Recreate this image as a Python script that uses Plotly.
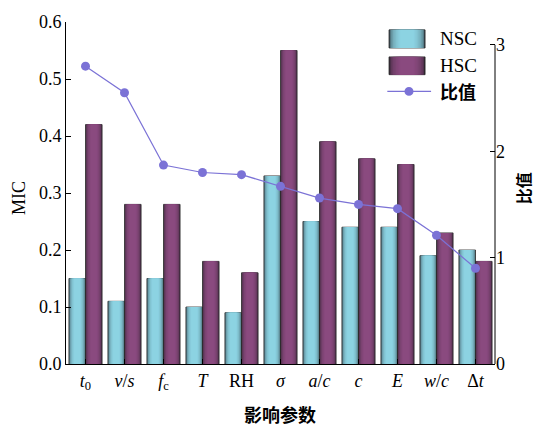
import plotly.graph_objects as go

# Influencing parameters (x categories) and their tick labels
params = ["t0", "v/s", "fc", "T", "RH", "sigma", "a/c", "c", "E", "w/c", "dt"]
tick_labels = ["<i>t</i><sub>0</sub>", "<i>v</i>/<i>s</i>", "<i>f</i><sub>c</sub>", "<i>T</i>",
               "RH", "<i>σ</i>", "<i>a</i>/<i>c</i>", "<i>c</i>", "<i>E</i>",
               "<i>w</i>/<i>c</i>", "Δ<i>t</i>"]

# MIC values for normal- and high-strength concrete
mic_nsc = [0.15, 0.11, 0.15, 0.10, 0.09, 0.33, 0.25, 0.24, 0.24, 0.19, 0.20]
mic_hsc = [0.42, 0.28, 0.28, 0.18, 0.16, 0.55, 0.39, 0.36, 0.35, 0.23, 0.18]
# HSC / NSC ratio
ratio = [2.80, 2.55, 1.87, 1.80, 1.78, 1.67, 1.56, 1.50, 1.46, 1.21, 0.90]

pos = list(range(len(params)))

SERIF = "Liberation Serif, Times New Roman, serif"
CJK = "Noto Sans CJK SC, sans-serif"
LINE_COLOR = "#7b72d6"

BAR_W = 0.425
NSC_EDGE, NSC_MID = (52, 70, 78), (146, 220, 236)
HSC_EDGE, HSC_MID = (48, 36, 48), (144, 76, 132)

# half-width fractions for the layered "cylinder" shading
FRACS = [1.0, 0.93, 0.86, 0.78, 0.70, 0.62, 0.54, 0.46, 0.38]


def mix(c0, c1, t):
    r, g, b = (round(a + (b_ - a) * t) for a, b_ in zip(c0, c1))
    return f"rgb({r},{g},{b})"


def shade(h):
    return max(0.0, 1 - h * h) ** 0.4


fig = go.Figure()


def add_cylinder_bars(values, center, edge, mid, name):
    for i, h in enumerate(FRACS):
        w = BAR_W * h
        fig.add_trace(go.Bar(
            x=pos, y=values, name=name, showlegend=False,
            width=[w] * len(pos), offset=[center - w / 2] * len(pos),
            marker=dict(color=mix(edge, mid, shade(h)),
                        line=dict(width=0.8 if i == 0 else 0, color="#2b2b2b")),
            hoverinfo="skip" if i else None,
        ))


add_cylinder_bars(mic_nsc, -BAR_W / 2, NSC_EDGE, NSC_MID, "NSC")
add_cylinder_bars(mic_hsc, BAR_W / 2, HSC_EDGE, HSC_MID, "HSC")

fig.add_trace(go.Scatter(
    x=pos, y=ratio, yaxis="y2", mode="lines+markers", name="比值", showlegend=False,
    line=dict(color=LINE_COLOR, width=1.2),
    marker=dict(color=LINE_COLOR, size=9),
))

# Manual legend (gradient swatches)
shapes = []


def swatch(x0, x1, y0, y1, edge, mid):
    cx, hw = (x0 + x1) / 2, (x1 - x0) / 2
    for i, h in enumerate(FRACS):
        shapes.append(dict(type="rect", xref="paper", yref="paper",
                           x0=cx - hw * h, x1=cx + hw * h, y0=y0, y1=y1,
                           fillcolor=mix(edge, mid, shade(h)),
                           line=dict(width=0.8 if i == 0 else 0, color="#2b2b2b"),
                           layer="above"))


swatch(0.753, 0.837, 0.924, 0.977, NSC_EDGE, NSC_MID)
swatch(0.753, 0.837, 0.846, 0.898, HSC_EDGE, HSC_MID)
shapes.append(dict(type="line", xref="paper", yref="paper", x0=0.749, x1=0.851,
                   y0=0.797, y1=0.797, line=dict(color=LINE_COLOR, width=1.2)))
shapes.append(dict(type="circle", xref="paper", yref="paper", x0=0.789, x1=0.810,
                   y0=0.784, y1=0.810, fillcolor=LINE_COLOR, line=dict(width=0)))
# right axis line spans 0..3 only
shapes.append(dict(type="line", xref="paper", yref="y2", x0=1, x1=1, y0=0, y1=3,
                   line=dict(color="black", width=1)))

annotations = [
    dict(text="NSC", x=0.866, y=0.951, xref="paper", yref="paper", xanchor="left",
         yanchor="middle", showarrow=False, font=dict(family=SERIF, size=19, color="black")),
    dict(text="HSC", x=0.866, y=0.873, xref="paper", yref="paper", xanchor="left",
         yanchor="middle", showarrow=False, font=dict(family=SERIF, size=19, color="black")),
    dict(text="<b>比值</b>", x=0.866, y=0.797, xref="paper", yref="paper", xanchor="left",
         yanchor="middle", showarrow=False, font=dict(family=CJK, size=18, color="black")),
    dict(text="MIC", x=-0.110, y=0.485, xref="paper", yref="paper", textangle=-90,
         xanchor="center", yanchor="middle", showarrow=False,
         font=dict(family=SERIF, size=18, color="black")),
    dict(text="<b>比值</b>", x=1.066, y=0.515, xref="paper", yref="paper", textangle=-90,
         xanchor="center", yanchor="middle", showarrow=False,
         font=dict(family=CJK, size=16, color="black")),
    dict(text="<b>影响参数</b>", x=0.499, y=-0.145, xref="paper", yref="paper",
         xanchor="center", yanchor="middle", showarrow=False,
         font=dict(family=CJK, size=18, color="black")),
]

fig.update_layout(
    width=537, height=427,
    margin=dict(l=66, r=42, t=20, b=63),
    paper_bgcolor="white", plot_bgcolor="white",
    barmode="overlay",
    showlegend=False,
    font=dict(family=SERIF, size=18, color="black"),
    xaxis=dict(range=[-0.5, 10.5], tickmode="array", tickvals=pos, ticktext=tick_labels,
               ticks="inside", ticklen=5, tickcolor="black", showline=True,
               linecolor="black", linewidth=1, showgrid=False, zeroline=False,
               tickfont=dict(family=SERIF, size=18)),
    yaxis=dict(range=[0, 0.6], dtick=0.1, tickformat=".1f", ticks="inside", ticklen=5,
               tickcolor="black", showline=True, linecolor="black", linewidth=1,
               showgrid=False, zeroline=False, tickfont=dict(family=SERIF, size=18)),
    yaxis2=dict(overlaying="y", side="right", range=[0, 3.215], tickvals=[0, 1, 2, 3],
                ticks="inside", ticklen=5, tickcolor="black", showline=False,
                showgrid=False, zeroline=False, tickfont=dict(family=SERIF, size=18)),
    shapes=shapes,
    annotations=annotations,
)

fig.write_html("out.html")
